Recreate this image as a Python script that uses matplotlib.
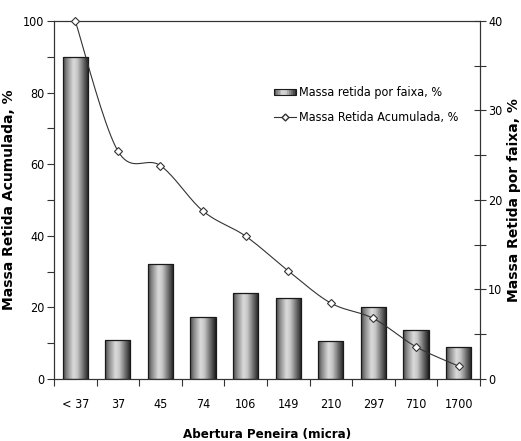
import numpy as np
import matplotlib
matplotlib.use("Agg")
import matplotlib.pyplot as plt
from matplotlib.colors import LinearSegmentedColormap
from matplotlib.patches import Rectangle
from matplotlib.legend_handler import HandlerBase
from matplotlib.lines import Line2D

categories = ["< 37", "37", "45", "74", "106", "149", "210", "297", "710", "1700"]
por_faixa = [36.0, 4.4, 12.8, 6.9, 9.6, 9.0, 4.2, 8.0, 5.5, 3.6]
acumulada = [100.0, 63.7, 59.6, 46.9, 39.9, 30.2, 21.2, 16.9, 9.0, 3.6]

FAM = "DejaVu Sans"
ST = "condensed"

cmap = LinearSegmentedColormap.from_list("cyl", [
    (0.0, "#4a4a4a"), (0.15, "#8a8a8a"), (0.40, "#dadada"),
    (0.55, "#c8c8c8"), (0.80, "#6a6a6a"), (1.0, "#1e1e1e")])

def smooth(xs, ys, n=20):
    xs = np.asarray(xs, float); ys = np.asarray(ys, float)
    P = np.column_stack([xs, ys])
    P = np.vstack([P[0], P, P[-1]])
    out = []
    t = np.linspace(0, 1, n)
    for i in range(1, len(P) - 2):
        p0, p1, p2, p3 = P[i-1], P[i], P[i+1], P[i+2]
        b1 = p1 + (p2 - p0) / 6.0
        b2 = p2 - (p3 - p1) / 6.0
        seg = ((1-t)**3)[:, None]*p1 + (3*(1-t)**2*t)[:, None]*b1 + (3*(1-t)*t**2)[:, None]*b2 + (t**3)[:, None]*p2
        out.append(seg if i == 1 else seg[1:])
    S = np.vstack(out)
    return S[:, 0], S[:, 1]

fig = plt.figure(figsize=(5.21, 4.41), dpi=100)
ax = fig.add_axes([0.1036, 0.1406, 0.8175, 0.8118])
ax2 = ax.twinx()

x = np.arange(len(categories))
w = 0.59
grad = np.linspace(0, 1, 64)[None, :]
for xi, h in zip(x, por_faixa):
    rect = Rectangle((xi - w/2, 0), w, h, facecolor="none", edgecolor="#1a1a1a", linewidth=0.9, zorder=3)
    ax2.add_patch(rect)
    im = ax2.imshow(grad, cmap=cmap, extent=[xi - w/2, xi + w/2, 0, h], aspect="auto", zorder=2, interpolation="bilinear")
    im.set_clip_path(rect)

sx, sy = smooth(x, acumulada)
ax.plot(sx, sy, color="#333333", linewidth=0.8, zorder=4)
ax.plot(x, acumulada, linestyle="none", marker="D", markersize=4, markerfacecolor="white",
        markeredgecolor="#333333", markeredgewidth=0.8, zorder=5, clip_on=False)

ax.set_zorder(ax2.get_zorder() + 1)
ax.patch.set_visible(False)

ax.set_xlim(-0.5, len(categories) - 0.5)
ax.set_ylim(0, 100)
ax2.set_ylim(0, 40)

ax.set_yticks(np.arange(0, 101, 20))
ax.set_yticks(np.arange(10, 100, 20), minor=True)
ax2.set_yticks(np.arange(0, 41, 10))
ax2.set_yticks(np.arange(5, 40, 10), minor=True)
ax.set_xticks(x)
ax.set_xticklabels(categories)
ax.set_xticks(np.arange(-0.5, len(categories), 1.0), minor=True)

ax.tick_params(axis="y", which="both", direction="out", length=5, width=0.8, color="#333333", labelsize=9, pad=2)
ax.tick_params(axis="x", which="major", length=0, labelsize=9, pad=14)
ax.tick_params(axis="x", which="minor", direction="out", length=5, width=0.8, color="#333333")
ax2.tick_params(axis="y", which="both", direction="inout", length=8, width=0.8, color="#333333", labelsize=9, pad=2)
for lab in ax.get_xticklabels() + ax.get_yticklabels() + ax2.get_yticklabels():
    lab.set_family(FAM)
    lab.set_stretch(ST)

for a in (ax, ax2):
    for s in a.spines.values():
        s.set_color("#333333")
        s.set_linewidth(0.8)

ax.set_ylabel("Massa Retida Acumulada, %", family=FAM, fontweight="bold", fontsize=10, labelpad=5)
ax2.set_ylabel("Massa Retida por faixa, %", family=FAM, fontweight="bold", fontsize=10, labelpad=3)
ax.set_xlabel("Abertura Peneira (micra)", family=FAM, stretch=ST, fontweight="bold", fontsize=9.5, labelpad=12)

class GradHandler(HandlerBase):
    def create_artists(self, legend, orig_handle, xdescent, ydescent, width, height, fontsize, trans):
        arts = []
        n = 12
        for i in range(n):
            c = cmap((i + 0.5) / n)
            r = Rectangle((-xdescent + width * i / n, -ydescent + height * 0.15), width / n, height * 0.7,
                          facecolor=c, edgecolor="none", transform=trans)
            arts.append(r)
        arts.append(Rectangle((-xdescent, -ydescent + height * 0.15), width, height * 0.7,
                              facecolor="none", edgecolor="#1a1a1a", linewidth=0.8, transform=trans))
        return arts

bar_handle = Rectangle((0, 0), 1, 1)
line_handle = Line2D([], [], color="#333333", linewidth=0.8, marker="D", markersize=3.5,
                     markerfacecolor="white", markeredgecolor="#333333")
leg = ax.legend([bar_handle, line_handle], ["Massa retida por faixa, %", "Massa Retida Acumulada, %"],
                handler_map={Rectangle: GradHandler()}, loc="upper left",
                bbox_to_anchor=(0.49, 0.85), frameon=False, handlelength=1.8, handletextpad=0.2,
                labelspacing=1.0, prop={"family": FAM, "stretch": ST, "size": 9})

fig.savefig("out.png", dpi=100)
